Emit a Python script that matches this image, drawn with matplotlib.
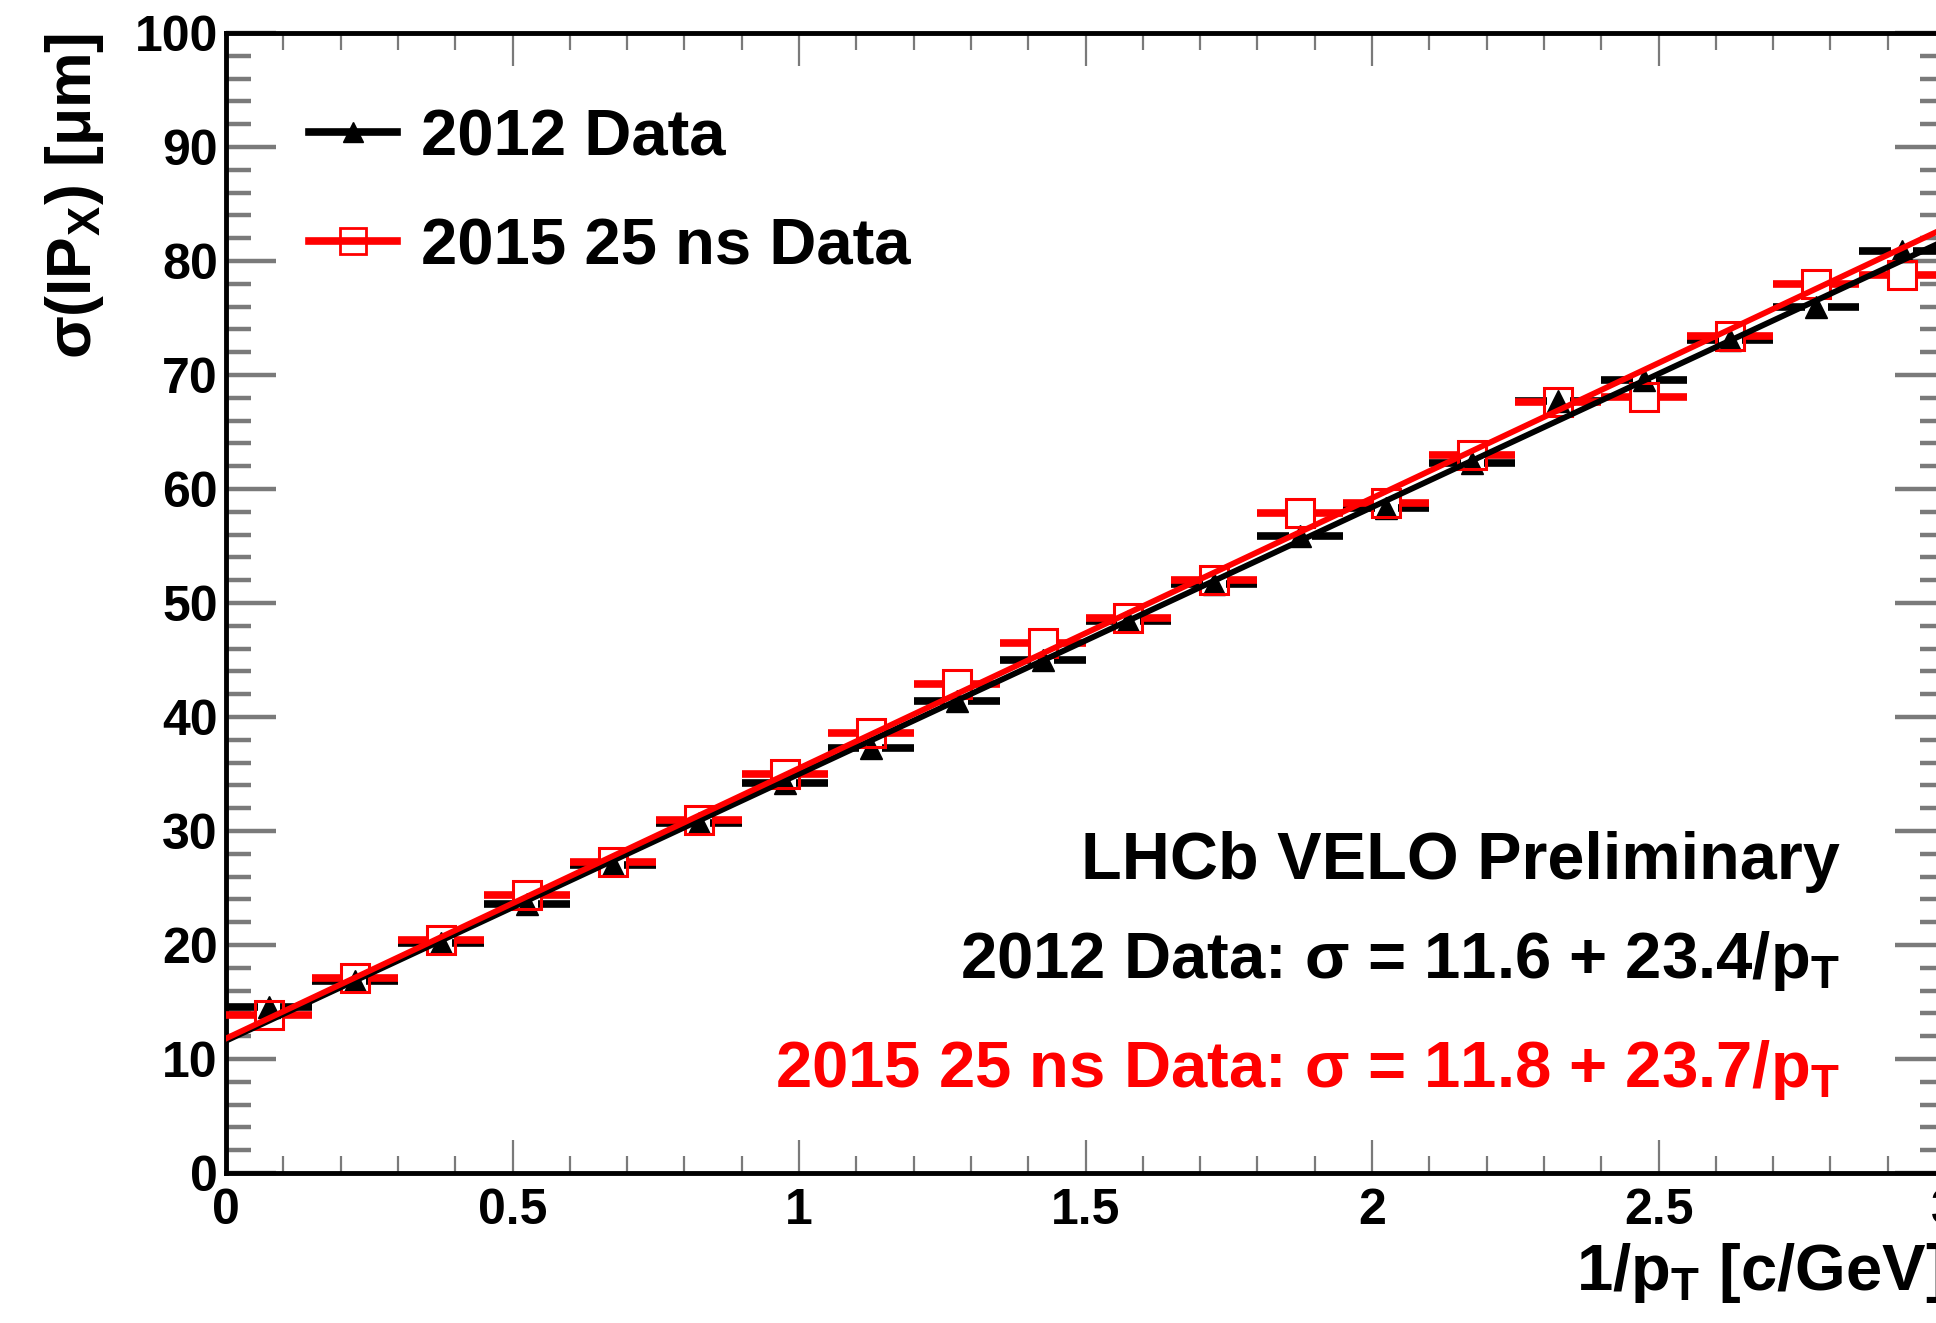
import numpy as np
import matplotlib
matplotlib.use("Agg")
import matplotlib.pyplot as plt
from matplotlib.lines import Line2D

plt.rcParams['font.family'] = ['Liberation Sans', 'DejaVu Sans']
plt.rcParams['font.weight'] = 'bold'
plt.rcParams['mathtext.fontset'] = 'custom'
plt.rcParams['mathtext.rm'] = 'Liberation Sans:bold'
plt.rcParams['mathtext.it'] = 'Liberation Sans:bold'
plt.rcParams['mathtext.bf'] = 'Liberation Sans:bold'

# bin centres in 1/pT [c/GeV], half bin width 0.075
inv_pt = [0.075, 0.225, 0.375, 0.525, 0.675, 0.825, 0.975, 1.125, 1.275, 1.425,
          1.575, 1.725, 1.875, 2.025, 2.175, 2.325, 2.475, 2.625, 2.775, 2.925]
bin_half = 0.075

sigma_2012 = [14.6, 16.8, 20.2, 23.6, 27.0, 30.7, 34.2, 37.3, 41.4, 45.0,
              48.4, 51.7, 55.9, 58.3, 62.3, 67.7, 69.6, 73.1, 76.0, 80.9]
sigma_2015 = [13.9, 17.1, 20.4, 24.4, 27.3, 31.0, 35.0, 38.6, 42.9, 46.5,
              48.7, 52.0, 57.9, 58.8, 63.0, 67.6, 68.1, 73.4, 78.0, 78.8]

# fit results quoted on the plot
fit_2012 = (11.6, 23.4)
fit_2015 = (11.8, 23.7)
fit_range = [0.0, 3.0]

label_2012 = "2012 Data"
label_2015 = "2015 25 ns Data"

W, H = 1936, 1323
fig = plt.figure(figsize=(W / 100, H / 100), dpi=100)
ax = fig.add_axes([226 / W, 1 - 1173 / H, (1945 - 226) / W, (1173 - 33) / H])

x = np.array(inv_pt)
y12 = np.array(sigma_2012)
y15 = np.array(sigma_2015)


def draw_points(yv, color, marker, ms, gap, **mk):
    # horizontal bin-width bars that stop at the marker edge (ROOT style)
    ax.hlines(yv, x - bin_half, x - gap, color=color, lw=5.5, zorder=3)
    ax.hlines(yv, x + gap, x + bin_half, color=color, lw=5.5, zorder=3)
    ax.plot(x, yv, ls='none', marker=marker, ms=ms, color=color, zorder=4, **mk)


draw_points(y12, 'black', '^', 16, 0.02)
fx = np.array(fit_range)
ax.plot(fx, fit_2012[0] + fit_2012[1] * fx, color='black', lw=4.2, zorder=5)

draw_points(y15, 'red', 's', 20, 0.025, mfc='none', mec='red', mew=2.2)
ax.plot(fx, fit_2015[0] + fit_2015[1] * fx, color='red', lw=4.2, zorder=6)

ax.set_xlim(0, 3)
ax.set_ylim(0, 100)
ax.set_xticks(np.arange(0, 3.01, 0.5))
ax.set_xticklabels(['0', '0.5', '1', '1.5', '2', '2.5', '3'])
ax.set_xticks(np.arange(0, 3.01, 0.1), minor=True)
ax.set_yticks(np.arange(0, 101, 10))
ax.set_yticks(np.arange(0, 101, 2), minor=True)

tick_col = '#7a7a7a'
ax.tick_params(axis='both', which='both', direction='in', top=True, right=True,
               labelsize=36, colors=tick_col, labelcolor='black')
ax.tick_params(axis='y', which='major', length=36, width=3.2, pad=6)
ax.tick_params(axis='y', which='minor', length=18, width=3.2)
ax.tick_params(axis='x', which='major', length=24, width=1.6, pad=11)
ax.tick_params(axis='x', which='minor', length=12, width=1.6)
for s in ax.spines.values():
    s.set_linewidth(3.5)
    s.set_color('black')

ax.text(1.0, -0.1026, r"1/p$_{\mathrm{T}}$ [c/GeV]",
        transform=ax.transAxes, ha='right', va='baseline', fontsize=47)
ax.text(-0.088, 1.0, "σ(IP$_{\\mathrm{X}}$) [μm]", transform=ax.transAxes,
        rotation=90, ha='center', va='top', fontsize=45)

handles = [
    Line2D([], [], color='black', lw=5.5, marker='^', ms=14),
    Line2D([], [], color='red', lw=5.5, marker='s', ms=19, mfc='none', mec='red', mew=2),
]
ax.legend(handles, [label_2012, label_2015], loc='upper left',
          bbox_to_anchor=(0.048, 0.934), frameon=False, fontsize=47,
          handlelength=1.36, handletextpad=0.37, labelspacing=0.75,
          borderpad=0, borderaxespad=0)

tx = (1840 - 226) / 573
ax.text(tx, 25.8, "LHCb VELO Preliminary", ha='right', va='baseline', fontsize=48)
ax.text(tx, 17.1, "2012 Data: σ = %.1f + %.1f/p$_{\\mathrm{T}}$" % fit_2012,
        ha='right', va='baseline', fontsize=47)
ax.text(tx, 7.5, "2015 25 ns Data: σ = %.1f + %.1f/p$_{\\mathrm{T}}$" % fit_2015,
        ha='right', va='baseline', fontsize=47, color='red')

fig.savefig("out.png", dpi=100)
